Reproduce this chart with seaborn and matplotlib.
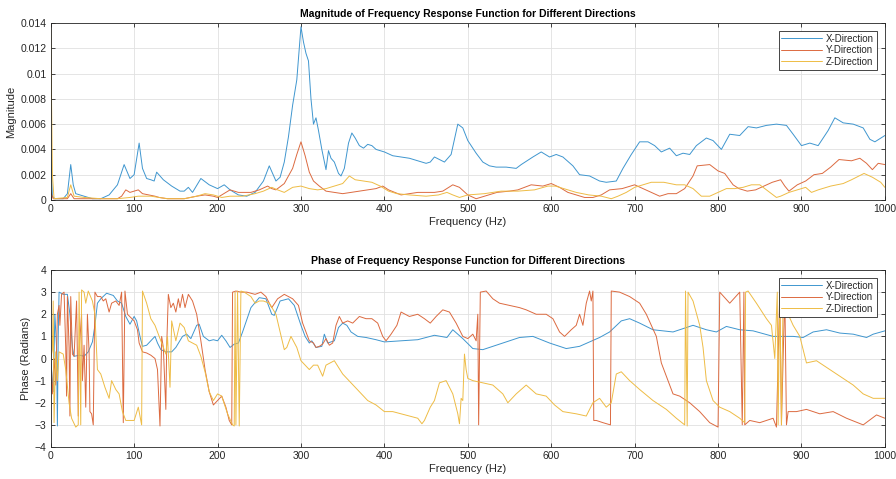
import numpy as np
import pandas as pd
import matplotlib
matplotlib.use("Agg")
import matplotlib.pyplot as plt
import seaborn as sns

# ---------------- data ----------------
series_names = ["X-Direction", "Y-Direction", "Z-Direction"]

mag_x_f = [0, 2, 5, 15, 20, 24, 27, 30, 40, 50, 60, 70, 80, 88, 95, 100, 106, 110, 115, 120, 124, 127,
           135, 145, 155, 160, 165, 170, 180, 190, 200, 208, 215, 225, 235, 245, 255, 262, 270, 275,
           280, 285, 290, 295, 300, 303, 306, 309, 312, 315, 318, 321, 325, 330, 333, 336, 340, 345,
           348, 352, 357, 361, 365, 370, 375, 380, 385, 390, 400, 410, 420, 430, 440, 450, 455, 460,
           466, 472, 480, 488, 494, 500, 510, 518, 526, 534, 546, 558, 564, 578, 588, 598, 606, 614,
           626, 634, 646, 658, 666, 678, 686, 696, 706, 716, 724, 732, 742, 750, 758, 766, 774, 786,
           794, 804, 814, 826, 836, 846, 858, 870, 882, 890, 900, 910, 920, 932, 940, 950, 962, 974,
           982, 988, 1000]
mag_x_v = [0.004, 0.0003, 0.0001, 0.0001, 0.0005, 0.0028, 0.0012, 0.0005, 0.0003, 0.0001, 0.0001,
           0.0004, 0.0012, 0.0028, 0.0017, 0.002, 0.0045, 0.0025, 0.0017, 0.0016, 0.0015, 0.0022,
           0.0016, 0.0011, 0.0007, 0.0007, 0.001, 0.0006, 0.0017, 0.0012, 0.0009, 0.0012, 0.0008,
           0.0004, 0.0003, 0.0006, 0.0015, 0.0027, 0.0015, 0.0018, 0.003, 0.005, 0.0075, 0.0095,
           0.0137, 0.0125, 0.0116, 0.011, 0.008, 0.006, 0.0065, 0.0055, 0.004, 0.0024, 0.0039, 0.0033,
           0.003, 0.0021, 0.0019, 0.0025, 0.0045, 0.0053, 0.0049, 0.0043, 0.0041, 0.0044, 0.0043,
           0.004, 0.0038, 0.0035, 0.0034, 0.0033, 0.0031, 0.0029, 0.003, 0.0034, 0.0032, 0.003,
           0.0036, 0.006, 0.0057, 0.0047, 0.0037, 0.003, 0.0027, 0.0026, 0.0026, 0.0025, 0.0028,
           0.0034, 0.0038, 0.0034, 0.0036, 0.0034, 0.0027, 0.002, 0.0019, 0.0015, 0.0014, 0.0015,
           0.0025, 0.0036, 0.0046, 0.0046, 0.0043, 0.0038, 0.0041, 0.0035, 0.0037, 0.0036, 0.0043,
           0.0049, 0.0047, 0.004, 0.0052, 0.0051, 0.0058, 0.0057, 0.0059, 0.006, 0.0059, 0.0052,
           0.0043, 0.0045, 0.0043, 0.0055, 0.0065, 0.0061, 0.006, 0.0057, 0.0048, 0.0046, 0.0051]

mag_y_f = [0, 3, 20, 24, 28, 50, 80, 85, 90, 95, 105, 110, 125, 130, 140, 160, 175, 185, 195, 200,
           210, 215, 225, 240, 250, 260, 265, 270, 280, 290, 295, 300, 305, 310, 315, 322, 330, 340,
           350, 360, 370, 380, 390, 398, 405, 420, 440, 460, 470, 482, 490, 500, 510, 520, 535, 550,
           560, 576, 590, 600, 610, 620, 640, 650, 660, 670, 685, 700, 710, 720, 730, 740, 750, 760,
           770, 775, 790, 800, 808, 818, 825, 835, 845, 855, 865, 875, 880, 885, 895, 905, 915, 925,
           935, 945, 960, 970, 978, 985, 992, 1000]
mag_y_v = [0.0006, 0.0001, 0.0001, 0.0005, 0.0001, 0.0001, 0.0001, 0.0003, 0.0008, 0.0006, 0.0008,
           0.0005, 0.0003, 0.0002, 0.0001, 0.0001, 0.0003, 0.0004, 0.0003, 0.0002, 0.0006, 0.0008,
           0.0006, 0.0006, 0.0008, 0.0011, 0.0009, 0.0008, 0.0013, 0.0025, 0.0036, 0.0046, 0.0035,
           0.0022, 0.0015, 0.0011, 0.0007, 0.0006, 0.0005, 0.0006, 0.0007, 0.0008, 0.0009, 0.0011,
           0.0008, 0.0004, 0.0006, 0.0006, 0.0007, 0.0012, 0.001, 0.0004, 0.0001, 0.0003, 0.0006,
           0.0007, 0.0008, 0.0012, 0.0011, 0.0013, 0.001, 0.0006, 0.0002, 0.0002, 0.0004, 0.0008,
           0.0009, 0.0012, 0.0009, 0.0006, 0.0003, 0.0005, 0.0005, 0.0009, 0.0019, 0.0027, 0.0028,
           0.0023, 0.0021, 0.0012, 0.0009, 0.0007, 0.0008, 0.0011, 0.0014, 0.0016, 0.0011, 0.0007,
           0.0012, 0.0015, 0.002, 0.0021, 0.0026, 0.0032, 0.0031, 0.0033, 0.0029, 0.0024, 0.0029,
           0.0028]

mag_z_f = [0, 2, 4, 20, 24, 28, 40, 60, 80, 95, 105, 120, 140, 160, 175, 185, 195, 205, 215, 230,
           245, 255, 265, 272, 280, 290, 300, 310, 320, 330, 340, 350, 358, 365, 375, 385, 395, 405,
           415, 430, 450, 465, 475, 482, 490, 500, 520, 540, 560, 580, 596, 605, 615, 630, 645, 660,
           672, 680, 690, 700, 710, 720, 735, 750, 760, 770, 780, 790, 800, 810, 820, 830, 840, 850,
           860, 870, 875, 885, 895, 905, 912, 920, 935, 950, 960, 975, 985, 995, 1000]
mag_z_v = [0.0135, 0.002, 0.0001, 0.0002, 0.0012, 0.0003, 0.0002, 0.0001, 0.0001, 0.0002, 0.0003,
           0.0003, 0.0001, 0.0001, 0.0003, 0.0005, 0.0004, 0.0002, 0.0003, 0.0003, 0.0005, 0.0007,
           0.001, 0.0008, 0.0006, 0.001, 0.0011, 0.0009, 0.0008, 0.0009, 0.0011, 0.0013, 0.0019,
           0.0016, 0.0015, 0.0014, 0.0011, 0.0007, 0.0005, 0.0004, 0.0003, 0.0004, 0.0006, 0.0004,
           0.0002, 0.0004, 0.0005, 0.0007, 0.0007, 0.0008, 0.0011, 0.0011, 0.0009, 0.0006, 0.0004,
           0.0003, 0.0001, 0.0003, 0.0006, 0.001, 0.0012, 0.0014, 0.0014, 0.0012, 0.0012, 0.0009,
           0.0003, 0.0003, 0.0006, 0.0009, 0.0009, 0.001, 0.0012, 0.0012, 0.0007, 0.0002, 0.0003,
           0.0006, 0.0008, 0.001, 0.0006, 0.0008, 0.0011, 0.0013, 0.0016, 0.0021, 0.0018, 0.0014,
           0.001]

ph_x_f = [0, 3, 5, 7, 8, 9, 10, 15, 20, 23, 26, 28, 35, 40, 45, 50, 53, 56, 60, 67, 75, 80, 85, 90,
          95, 100, 103, 107, 110, 115, 120, 125, 128, 132, 138, 145, 150, 158, 163, 168, 175, 178,
          183, 190, 195, 200, 205, 210, 215, 220, 225, 230, 240, 250, 258, 265, 268, 275, 285, 292,
          300, 305, 310, 313, 318, 325, 328, 332, 340, 345, 350, 355, 360, 368, 378, 390, 400, 420,
          440, 460, 475, 482, 494, 506, 518, 538, 562, 578, 598, 618, 634, 658, 670, 684, 694, 706,
          722, 746, 770, 786, 798, 810, 826, 842, 866, 890, 902, 914, 930, 946, 962, 978, 986, 1000]
ph_x_v = [0.0, -1.5, 2.0, 0.5, -3.05, 1.0, 3.0, 2.9, 2.9, 2.0, 0.5, 0.1, 0.15, 0.1, 0.3, 0.75, 1.5,
          2.5, 2.7, 2.95, 2.85, 2.6, 2.5, 1.9, 1.55, 1.9, 1.7, 1.0, 0.55, 0.6, 0.8, 1.0, 0.7, 0.4,
          0.3, 0.3, 0.5, 1.0, 1.1, 0.9, 1.5, 1.55, 1.0, 0.8, 0.85, 0.8, 1.05, 0.8, 0.5, 0.65, 0.7,
          1.2, 2.3, 2.75, 2.7, 2.0, 1.95, 2.6, 2.7, 2.4, 1.5, 1.0, 0.7, 0.8, 0.5, 0.55, 1.1, 0.7,
          0.8, 1.4, 1.6, 1.5, 1.2, 1.0, 0.95, 0.85, 0.75, 0.8, 0.85, 1.05, 0.95, 1.3, 0.9, 0.45,
          0.4, 0.65, 0.95, 1.0, 0.7, 0.45, 0.55, 0.95, 1.2, 1.7, 1.8, 1.6, 1.3, 1.2, 1.5, 1.3, 1.2,
          1.45, 1.3, 1.25, 1.0, 1.0, 0.95, 1.2, 1.3, 1.15, 1.1, 0.95, 1.1, 1.25]

ph_y_f = [0, 2, 4, 6, 8, 10, 11, 13, 16, 18, 19, 20, 22, 23, 24, 26, 28, 31, 33, 34, 37, 38, 40, 42,
          44, 46, 47, 49, 51, 53, 56, 60, 63, 66, 70, 73, 78, 82, 85, 87, 89, 92, 100, 104, 106, 110,
          115, 120, 125, 128, 131, 133, 135, 138, 139, 141, 144, 147, 150, 153, 155, 158, 161, 165,
          170, 175, 180, 185, 190, 195, 200, 205, 210, 214, 217, 218, 222, 228, 235, 245, 252, 258,
          262, 265, 272, 280, 290, 297, 302, 306, 310, 315, 318, 322, 326, 330, 334, 338, 342, 346,
          350, 356, 362, 370, 378, 385, 392, 398, 402, 408, 415, 420, 430, 440, 448, 455, 462, 470,
          478, 486, 494, 500, 506, 510, 512, 513, 515, 522, 530, 538, 550, 562, 570, 582, 594, 602,
          610, 616, 624, 630, 634, 638, 642, 646, 648, 650, 651, 654, 662, 671, 672, 682, 694, 706,
          714, 726, 732, 738, 746, 754, 766, 778, 790, 800, 802, 814, 826, 829, 831, 832, 838, 850,
          866, 870, 874, 876, 880, 882, 884, 894, 906, 922, 938, 954, 974, 990, 1000]
ph_y_v = [-0.5, -1.6, 0.0, -1.2, 2.0, 2.4, 1.5, 2.9, 3.0, 0.5, -1.7, 2.8, 0.5, -2.6, 2.8, 0.2, 0.1,
          2.6, -2.6, 0.3, 2.0, -1.0, 0.6, -2.2, 2.0, 0.3, -2.4, -2.5, -3.0, 3.0, 2.8, 2.8, 2.6, 2.7,
          2.1, 2.5, 2.6, 2.4, 3.0, -2.9, 3.05, 2.0, 1.7, 1.3, 0.7, 0.3, 0.25, 0.15, 0.0, -0.5, -3.05,
          1.0, 0.5, -2.3, 0.5, 2.9, 2.3, 2.5, 2.1, 2.7, 2.3, 2.9, 2.3, 2.9, 2.6, 2.0, 0.8, -0.5,
          -1.5, -2.1, -1.9, -1.7, -2.2, -2.8, -3.0, 3.0, 3.05, 3.0, 3.0, 2.9, 3.0, 2.8, 2.5, 2.3,
          2.7, 2.9, 2.7, 2.4, 1.6, 1.2, 0.8, 0.7, 0.5, 0.55, 0.65, 0.9, 0.6, 0.7, 1.5, 1.9, 1.6,
          1.7, 1.6, 1.9, 1.8, 1.8, 1.6, 1.0, 0.8, 1.1, 1.5, 2.1, 1.9, 2.0, 1.8, 1.6, 1.9, 2.2, 2.1,
          1.6, 1.0, 0.9, 1.1, 0.8, 2.0, -3.0, 3.0, 3.05, 2.7, 2.5, 2.4, 2.3, 2.2, 2.0, 2.0, 1.8,
          1.2, 1.0, 1.3, 1.5, 2.0, 1.5, 2.5, 3.05, 2.6, 3.05, -2.8, -2.8, -2.9, -3.0, 3.05, 3.0,
          2.8, 2.5, 2.0, 1.0, -0.2, -0.8, -1.6, -1.7, -2.0, -2.4, -2.9, -3.1, 3.0, 2.5, 3.0, -3.0,
          3.0, -3.0, -2.8, -2.9, -2.7, -3.1, 3.0, -3.0, 3.0, -3.0, -2.4, -2.4, -2.3, -2.5, -2.4,
          -2.7, -3.0, -2.55, -2.7]

ph_z_f = [0, 2, 3, 4, 6, 8, 10, 15, 18, 22, 25, 30, 33, 34, 36, 37, 40, 42, 45, 50, 53, 56, 60, 65,
          70, 73, 78, 82, 86, 90, 95, 100, 105, 109, 110, 115, 120, 125, 130, 135, 138, 140, 143,
          145, 150, 155, 160, 165, 170, 175, 180, 185, 190, 195, 200, 205, 212, 218, 220, 221, 222,
          224, 226, 228, 232, 240, 245, 250, 255, 262, 270, 275, 280, 283, 288, 295, 300, 305, 310,
          315, 320, 326, 330, 335, 340, 345, 350, 360, 370, 380, 390, 400, 410, 420, 430, 440, 445,
          448, 455, 460, 466, 474, 482, 488, 490, 492, 494, 496, 498, 500, 506, 518, 530, 542, 548,
          558, 570, 582, 594, 604, 614, 630, 642, 650, 658, 666, 672, 678, 684, 694, 706, 722, 738,
          750, 760, 761, 763, 764, 770, 778, 782, 786, 794, 802, 814, 826, 832, 833, 836, 846, 858,
          864, 868, 871, 872, 874, 876, 878, 884, 890, 898, 906, 918, 930, 946, 962, 974, 986, 1000]
ph_z_v = [0.0, 0.4, 2.6, -2.9, 0.3, -1.0, 0.3, 0.2, -0.5, -2.0, -2.7, -3.1, -3.0, 3.0, -3.0, 3.1,
          3.0, 2.5, 3.05, 2.6, 2.0, -0.5, -0.7, -1.3, -1.8, -1.0, -1.4, -1.6, -2.4, -2.8, -2.8, -2.8,
          -2.2, -3.0, 3.05, 2.5, 1.8, 1.5, 1.0, 0.5, 0.2, 1.0, -1.3, 1.7, 0.8, 1.6, 1.4, 0.8, 0.7,
          0.6, 0.1, -0.6, -1.5, -1.9, -1.6, -1.7, -2.5, -3.0, -3.05, 3.0, -3.0, 3.05, -3.05, 3.05,
          3.0, 2.8, 2.5, 2.6, 2.6, 2.5, 2.0, 1.2, 0.4, 0.5, 1.0, 0.5, -0.1, -0.3, -0.5, -0.3, -0.3,
          -0.8, -0.3, -0.2, -0.1, -0.4, -0.7, -1.1, -1.5, -1.9, -2.1, -2.4, -2.4, -2.5, -2.6, -2.7,
          -2.95, -2.8, -2.2, -1.9, -1.1, -1.0, -1.6, -2.5, -2.95, -1.8, -1.9, 0.2, -0.5, -0.9, -1.0,
          -1.1, -1.2, -1.6, -2.0, -1.6, -1.2, -1.6, -1.7, -2.1, -2.4, -2.5, -2.6, -2.0, -1.8, -2.2,
          -2.0, -0.7, -0.6, -1.0, -1.4, -1.9, -2.3, -2.7, -3.0, 3.05, -3.05, 3.0, 2.6, 1.5, 0.5,
          -1.0, -1.9, -2.2, -2.4, -2.7, -2.9, 3.0, 3.05, 2.5, 1.8, 1.5, 0.0, 3.0, -3.0, 3.0, -3.0,
          2.9, 2.0, 1.5, 1.0, -0.2, -0.1, -0.4, -0.8, -1.2, -1.6, -1.8, -1.8]

mag_yticks = [0, 0.002, 0.004, 0.006, 0.008, 0.01, 0.012, 0.014]
mag_yticklabels = ["0", "0.002", "0.004", "0.006", "0.008", "0.01", "0.012", "0.014"]
ph_yticks = [-4, -3, -2, -1, 0, 1, 2, 3, 4]
xticks = [0, 100, 200, 300, 400, 500, 600, 700, 800, 900, 1000]

# ---------------- build tables ----------------
def long_table(fs, vs):
    frames = []
    for name, f, v in zip(series_names, fs, vs):
        frames.append(pd.DataFrame({"Frequency": f, "Value": v, "Series": name}))
    return pd.concat(frames, ignore_index=True)

mag_df = long_table([mag_x_f, mag_y_f, mag_z_f], [mag_x_v, mag_y_v, mag_z_v])
ph_df = long_table([ph_x_f, ph_y_f, ph_z_f], [ph_x_v, ph_y_v, ph_z_v])

# ---------------- style ----------------
sns.set_theme(style="whitegrid")
plt.rcParams["font.family"] = ["Liberation Sans", "DejaVu Sans"]
palette = {"X-Direction": "#3f96cf", "Y-Direction": "#dc6a40", "Z-Direction": "#eebc45"}
axis_col = "#262626"

fig = plt.figure(figsize=(8.96, 4.79), dpi=100)
ax1 = fig.add_axes([0.0566, 0.5825, 0.931, 0.3695])
ax2 = fig.add_axes([0.0566, 0.0668, 0.931, 0.3695])

def style_axes(ax, title, ylabel, yticks, ylim, yticklabels=None):
    ax.set_facecolor("white")
    ax.set_xlim(0, 1000)
    ax.set_ylim(*ylim)
    ax.set_xticks(xticks)
    ax.set_yticks(yticks)
    if yticklabels is not None:
        ax.set_yticklabels(yticklabels)
    ax.grid(True, color="#e1e1e1", linewidth=0.6)
    for s in ax.spines.values():
        s.set_color(axis_col)
        s.set_linewidth(0.6)
        s.set_visible(True)
    ax.tick_params(direction="in", length=3, width=0.6, color=axis_col,
                   labelcolor=axis_col, labelsize=7.5, top=True, right=True,
                   left=True, bottom=True, pad=3)
    ax.set_title(title, fontsize=7.5, fontweight="bold", color="black", pad=4)
    ax.set_xlabel("Frequency (Hz)", fontsize=8, color=axis_col, labelpad=2)
    ax.set_ylabel(ylabel, fontsize=8, color=axis_col, labelpad=3)
    leg = ax.legend(loc="upper right", fontsize=7, frameon=True, fancybox=False,
                    handlelength=4.2, borderaxespad=0.8, borderpad=0.3,
                    labelspacing=0.15, handletextpad=0.4, markerfirst=True)
    leg.get_frame().set_edgecolor(axis_col)
    leg.get_frame().set_linewidth(0.6)
    leg.get_frame().set_facecolor("white")
    leg.get_frame().set_alpha(1)
    for t in leg.get_texts():
        t.set_color(axis_col)

sns.lineplot(data=mag_df, x="Frequency", y="Value", hue="Series", palette=palette,
             estimator=None, sort=False, linewidth=0.7, ax=ax1)
sns.lineplot(data=ph_df, x="Frequency", y="Value", hue="Series", palette=palette,
             estimator=None, sort=False, linewidth=0.7, ax=ax2)

style_axes(ax1, "Magnitude of Frequency Response Function for Different Directions",
           "Magnitude", mag_yticks, (0, 0.014), mag_yticklabels)
style_axes(ax2, "Phase of Frequency Response Function for Different Directions",
           "Phase (Radians)", ph_yticks, (-4, 4))

fig.savefig("out.png", dpi=100)
